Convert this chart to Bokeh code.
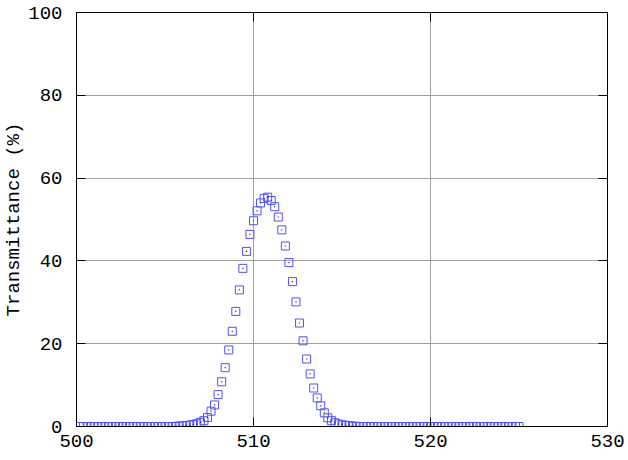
from bokeh.plotting import figure
from bokeh.models import LinearAxis, FixedTicker, Range1d
from bokeh.embed import file_html
from bokeh.resources import INLINE

wavelength = [
    500.2, 500.4, 500.6, 500.8, 501.0, 501.2, 501.4, 501.6, 501.8, 502.0,
    502.2, 502.4, 502.6, 502.8, 503.0, 503.2, 503.4, 503.6, 503.8, 504.0,
    504.2, 504.4, 504.6, 504.8, 505.0, 505.2, 505.4, 505.6, 505.8, 506.0,
    506.2, 506.4, 506.6, 506.8, 507.0, 507.2, 507.4, 507.6, 507.8, 508.0,
    508.2, 508.4, 508.6, 508.8, 509.0, 509.2, 509.4, 509.6, 509.8, 510.0,
    510.2, 510.4, 510.6, 510.8, 511.0, 511.2, 511.4, 511.6, 511.8, 512.0,
    512.2, 512.4, 512.6, 512.8, 513.0, 513.2, 513.4, 513.6, 513.8, 514.0,
    514.2, 514.4, 514.6, 514.8, 515.0, 515.2, 515.4, 515.6, 515.8, 516.0,
    516.2, 516.4, 516.6, 516.8, 517.0, 517.2, 517.4, 517.6, 517.8, 518.0,
    518.2, 518.4, 518.6, 518.8, 519.0, 519.2, 519.4, 519.6, 519.8, 520.0,
    520.2, 520.4, 520.6, 520.8, 521.0, 521.2, 521.4, 521.6, 521.8, 522.0,
    522.2, 522.4, 522.6, 522.8, 523.0, 523.2, 523.4, 523.6, 523.8, 524.0,
    524.2, 524.4, 524.6, 524.8, 525.0,
]

transmittance = [
    0.0, 0.0, 0.0, 0.0, 0.0, 0.0, 0.0, 0.0, 0.0, 0.0,
    0.0, 0.0, 0.0, 0.0, 0.0, 0.0, 0.0, 0.0, 0.0, 0.0,
    0.0, 0.0, 0.0, 0.0, 0.0, 0.0, 0.0, 0.05, 0.1, 0.15,
    0.25, 0.35, 0.5, 0.65, 1.0, 1.4, 2.2, 3.7, 5.2, 7.7,
    10.8, 14.2, 18.5, 23.0, 27.8, 33.0, 38.2, 42.3, 46.4, 49.7,
    52.1, 54.0, 55.1, 55.4, 54.6, 53.1, 50.6, 47.5, 43.6, 39.6,
    35.0, 30.1, 25.0, 20.7, 16.3, 12.7, 9.3, 6.9, 5.0, 3.3,
    2.1, 1.4, 0.9, 0.6, 0.4, 0.3, 0.2, 0.1, 0.05, 0.0,
    0.0, 0.0, 0.0, 0.0, 0.0, 0.0, 0.0, 0.0, 0.0, 0.0,
    0.0, 0.0, 0.0, 0.0, 0.0, 0.0, 0.0, 0.0, 0.0, 0.0,
    0.0, 0.0, 0.0, 0.0, 0.0, 0.0, 0.0, 0.0, 0.0, 0.0,
    0.0, 0.0, 0.0, 0.0, 0.0, 0.0, 0.0, 0.0, 0.0, 0.0,
    0.0, 0.0, 0.0, 0.0, 0.0,
]

x_ticks = [500, 510, 520, 530]
y_ticks = [0, 20, 40, 60, 80, 100]

FONT = "Liberation Mono"

p = figure(width=628, height=460, output_backend="svg", toolbar_location=None,
           x_range=Range1d(500, 530), y_range=Range1d(0, 100),
           min_border_left=75, min_border_right=21, min_border_top=12, min_border_bottom=34,
           x_axis_location=None, y_axis_location=None)

p.outline_line_color = "black"
p.outline_line_width = 1
p.background_fill_color = "white"
p.border_fill_color = "white"

def style_axis(ax, ticks, labels=True):
    ax.ticker = FixedTicker(ticks=ticks)
    ax.major_tick_in = 9
    ax.major_tick_out = 0
    ax.minor_tick_in = 0
    ax.minor_tick_out = 0
    ax.axis_line_color = "black"
    ax.major_tick_line_color = "black"
    ax.major_label_text_font = FONT
    ax.major_label_text_font_size = "19px"
    ax.major_label_text_color = "black"
    if not labels:
        ax.major_label_text_font_size = "0px"
        ax.major_label_text_alpha = 0

bottom = LinearAxis()
style_axis(bottom, x_ticks)
bottom.major_label_standoff = 8
p.add_layout(bottom, "below")

left = LinearAxis(axis_label="Transmittance (%)")
style_axis(left, y_ticks)
left.major_label_standoff = 14
left.axis_label_text_font = FONT
left.axis_label_text_font_size = "19px"
left.axis_label_text_font_style = "normal"
left.axis_label_text_color = "black"
left.axis_label_standoff = 0
p.add_layout(left, "left")

top = LinearAxis()
style_axis(top, x_ticks, labels=False)
p.add_layout(top, "above")

right = LinearAxis()
style_axis(right, y_ticks, labels=False)
p.add_layout(right, "right")

p.xgrid.ticker = FixedTicker(ticks=[510, 520])
p.ygrid.ticker = FixedTicker(ticks=[20, 40, 60, 80])
p.xgrid.grid_line_color = "#a0a0a0"
p.ygrid.grid_line_color = "#a0a0a0"
p.xgrid.grid_line_width = 1
p.ygrid.grid_line_width = 1

p.scatter(wavelength, transmittance, marker="square", size=8,
          fill_alpha=0, line_color="#5050ff", line_width=1)
p.scatter(wavelength, transmittance, marker="square", size=1.2,
          fill_color="#303050", line_color=None)

open("out.html", "w").write(file_html(p, INLINE))
